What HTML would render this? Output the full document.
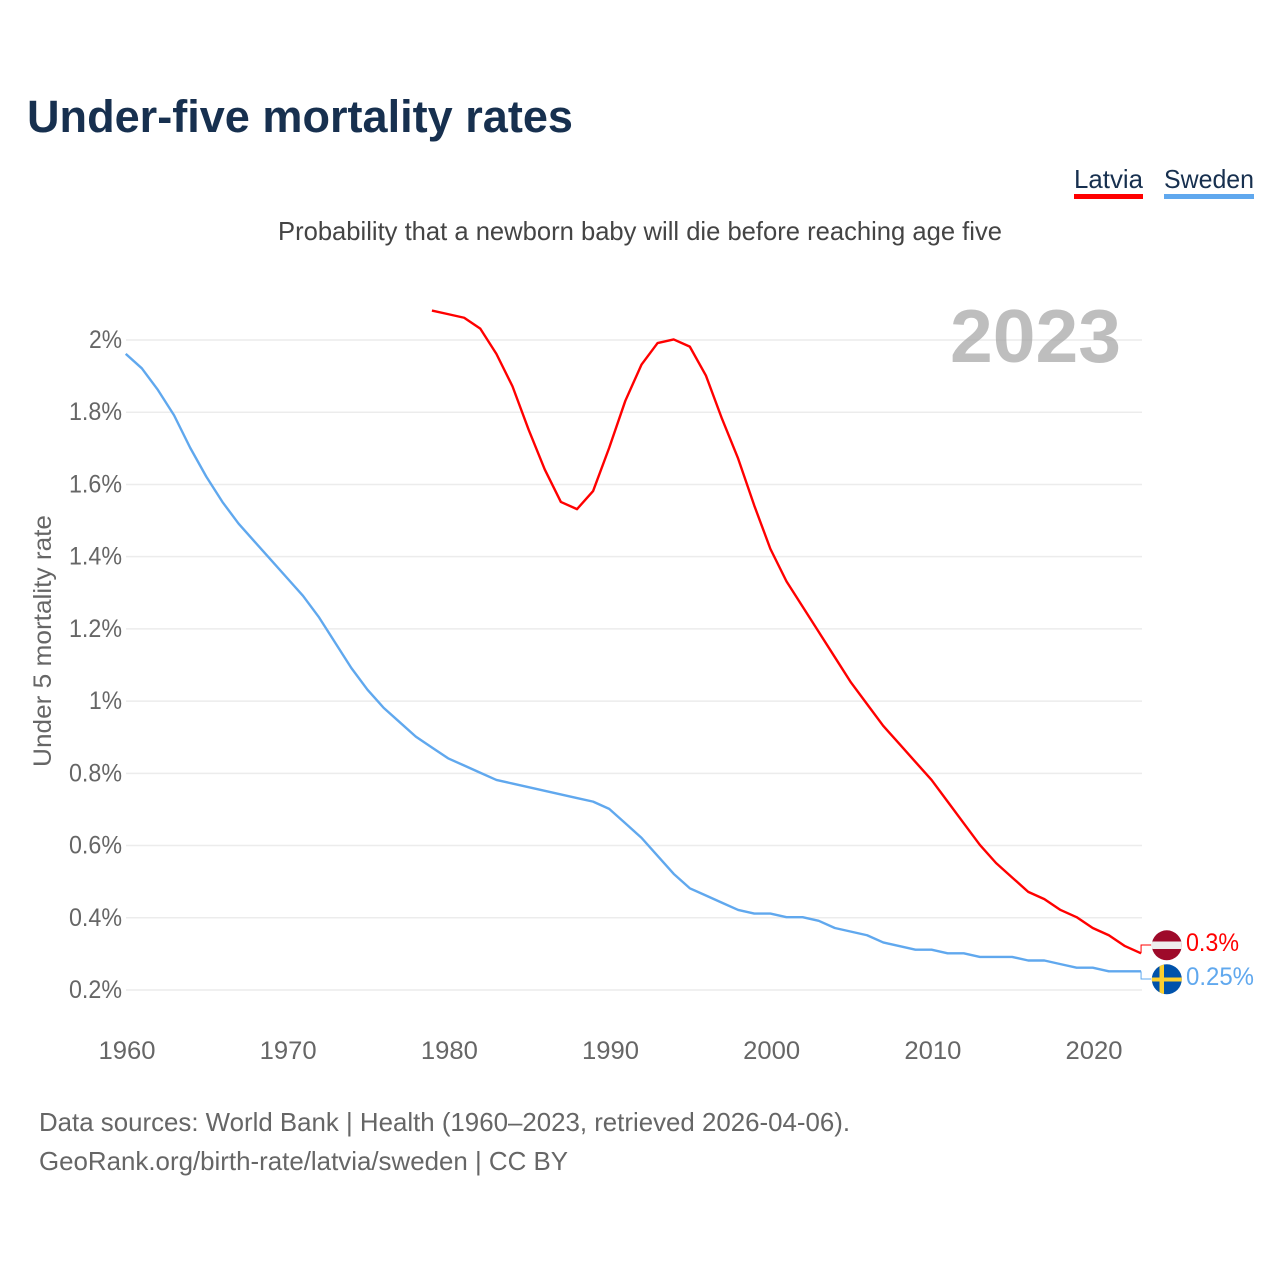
<!DOCTYPE html>
<html lang="en">
<head>
<meta charset="utf-8">
<title>Under-five mortality rates</title>
<style>
html,body{margin:0;padding:0;background:#fff;}
svg{display:block;}
text{font-family:"Liberation Sans",sans-serif;}
</style>
</head>
<body>
<svg id="chart" xmlns="http://www.w3.org/2000/svg" width="1280" height="1280" viewBox="0 0 1280 1280">
  <rect x="0" y="0" width="1280" height="1280" fill="#ffffff"/>
  <text x="27" y="132" font-size="45" font-weight="700" fill="#17304f" textLength="546" lengthAdjust="spacingAndGlyphs">Under-five mortality rates</text>
  <text x="278" y="240" font-size="26" fill="#444444" textLength="724" lengthAdjust="spacingAndGlyphs">Probability that a newborn baby will die before reaching age five</text>
  <g>
    <text x="1074" y="188" font-size="26" fill="#17304f" textLength="69" lengthAdjust="spacingAndGlyphs">Latvia</text>
    <rect x="1074" y="194" width="69" height="5" fill="#ff0000"/>
    <text x="1164" y="188" font-size="26" fill="#17304f" textLength="90" lengthAdjust="spacingAndGlyphs">Sweden</text>
    <rect x="1164" y="194" width="90" height="5" fill="#60a8ee"/>
  </g>
  <g id="grid"></g>
  <text x="1121" y="362" font-size="75" font-weight="700" fill="#a8a8a8" fill-opacity="0.75" text-anchor="end" textLength="171" lengthAdjust="spacingAndGlyphs">2023</text>
  <g id="yticks"></g>
  <g id="xticks"></g>
  <text transform="translate(51,641) rotate(-90)" font-size="25" fill="#666666" text-anchor="middle" textLength="252" lengthAdjust="spacingAndGlyphs">Under 5 mortality rate</text>
  <g id="series"></g>
  <g>
    <clipPath id="clip-lv"><circle cx="1166.8" cy="945.3" r="15"/></clipPath>
    <g clip-path="url(#clip-lv)">
      <rect x="1151" y="930" width="32" height="32" fill="#9e0a2a"/>
      <rect x="1151" y="941.5" width="32" height="7.5" fill="#eeeeee"/>
    </g>
    <text x="1186" y="951" font-size="25" fill="#ff0000" textLength="53" lengthAdjust="spacingAndGlyphs">0.3%</text>
  </g>
  <g>
    <clipPath id="clip-se"><circle cx="1166.8" cy="979.3" r="15"/></clipPath>
    <g clip-path="url(#clip-se)">
      <rect x="1151" y="964" width="32" height="32" fill="#0052ab"/>
      <rect x="1151" y="977.5" width="32" height="4" fill="#fdcf2e"/>
      <rect x="1159.5" y="964" width="4.5" height="32" fill="#fdcf2e"/>
    </g>
    <text x="1186" y="985" font-size="25" fill="#60a8ee" textLength="68" lengthAdjust="spacingAndGlyphs">0.25%</text>
  </g>
  <text x="39" y="1131" font-size="26" fill="#666666" textLength="811" lengthAdjust="spacingAndGlyphs">Data sources: World Bank | Health (1960–2023, retrieved 2026-04-06).</text>
  <text x="39" y="1170" font-size="26" fill="#666666" textLength="529" lengthAdjust="spacingAndGlyphs">GeoRank.org/birth-rate/latvia/sweden | CC BY</text>
</svg>
<script>
const yTickValues = [0.2, 0.4, 0.6, 0.8, 1, 1.2, 1.4, 1.6, 1.8, 2];
const yTickLabels = ['0.2%', '0.4%', '0.6%', '0.8%', '1%', '1.2%', '1.4%', '1.6%', '1.8%', '2%'];
const xTickYears = [1960, 1970, 1980, 1990, 2000, 2010, 2020];
const latviaStartYear = 1979;
const latviaValues = [2.08, 2.07, 2.06, 2.03, 1.96, 1.87, 1.75, 1.64, 1.55, 1.53, 1.58, 1.70, 1.83, 1.93, 1.99, 2.00, 1.98, 1.90, 1.78, 1.67, 1.54, 1.42, 1.33, 1.26, 1.19, 1.12, 1.05, 0.99, 0.93, 0.88, 0.83, 0.78, 0.72, 0.66, 0.60, 0.55, 0.51, 0.47, 0.45, 0.42, 0.40, 0.37, 0.35, 0.32, 0.30];
const swedenStartYear = 1960;
const swedenValues = [1.96, 1.92, 1.86, 1.79, 1.70, 1.62, 1.55, 1.49, 1.44, 1.39, 1.34, 1.29, 1.23, 1.16, 1.09, 1.03, 0.98, 0.94, 0.90, 0.87, 0.84, 0.82, 0.80, 0.78, 0.77, 0.76, 0.75, 0.74, 0.73, 0.72, 0.70, 0.66, 0.62, 0.57, 0.52, 0.48, 0.46, 0.44, 0.42, 0.41, 0.41, 0.40, 0.40, 0.39, 0.37, 0.36, 0.35, 0.33, 0.32, 0.31, 0.31, 0.30, 0.30, 0.29, 0.29, 0.29, 0.28, 0.28, 0.27, 0.26, 0.26, 0.25, 0.25, 0.25];

const NS = 'http://www.w3.org/2000/svg';
function xScale(year) { return 125.7 + (year - 1960) * 16.117; }
function yScale(v) { return 990 - (v - 0.2) * 361.1; }
function make(tag, parentId) {
  const el = document.createElementNS(NS, tag);
  document.getElementById(parentId).appendChild(el);
  return el;
}
function seriesPoints(startYear, values) {
  return values.map(function (v, i) {
    return xScale(startYear + i).toFixed(2) + ',' + (yScale(v) - 0.6).toFixed(2);
  });
}

yTickValues.forEach(function (v, i) {
  const line = make('line', 'grid');
  
  
  line.setAttribute('x1', 126);
  line.setAttribute('x2', 1142);
  line.setAttribute('y1', yScale(v));
  line.setAttribute('y2', yScale(v));
  line.setAttribute('stroke', '#ececec');
  line.setAttribute('stroke-width', '1.5');

  const label = make('text', 'yticks');
  
  
  label.setAttribute('x', 122);
  label.setAttribute('y', yScale(v) + 8);
  label.setAttribute('font-size', '25');
  label.setAttribute('fill', '#666666');
  label.setAttribute('text-anchor', 'end');
  label.setAttribute('textLength', yTickLabels[i].length === 2 ? 33 : 53);
  label.setAttribute('lengthAdjust', 'spacingAndGlyphs');
  label.textContent = yTickLabels[i];
});

xTickYears.forEach(function (year) {
  const label = make('text', 'xticks');
  
  
  label.setAttribute('x', xScale(year) + 1.3);
  label.setAttribute('y', 1059);
  label.setAttribute('font-size', '25');
  label.setAttribute('fill', '#666666');
  label.setAttribute('text-anchor', 'middle');
  label.setAttribute('textLength', 57);
  label.setAttribute('lengthAdjust', 'spacingAndGlyphs');
  label.textContent = String(year);
});

const swedenLine = make('polyline', 'series');


swedenLine.setAttribute('points', seriesPoints(swedenStartYear, swedenValues).join(' '));
swedenLine.setAttribute('fill', 'none');
swedenLine.setAttribute('stroke', '#60a8ee');
swedenLine.setAttribute('stroke-width', '2.4');
swedenLine.setAttribute('stroke-linejoin', 'round');

const latviaLine = make('polyline', 'series');


latviaLine.setAttribute('points', seriesPoints(latviaStartYear, latviaValues).join(' '));
latviaLine.setAttribute('fill', 'none');
latviaLine.setAttribute('stroke', '#ff0000');
latviaLine.setAttribute('stroke-width', '2.4');
latviaLine.setAttribute('stroke-linejoin', 'round');

const latviaLastX = xScale(latviaStartYear + latviaValues.length - 1);
const latviaLastY = yScale(latviaValues[latviaValues.length - 1]) - 0.6;
const latviaLeader = make('polyline', 'series');


latviaLeader.setAttribute('points', latviaLastX + ',' + latviaLastY + ' ' + latviaLastX + ',945 1151,945');
latviaLeader.setAttribute('fill', 'none');
latviaLeader.setAttribute('stroke', '#ff0000');
latviaLeader.setAttribute('stroke-width', '1');

const swedenLastX = xScale(swedenStartYear + swedenValues.length - 1);
const swedenLastY = yScale(swedenValues[swedenValues.length - 1]) - 0.6;
const swedenLeader = make('polyline', 'series');


swedenLeader.setAttribute('points', swedenLastX + ',' + swedenLastY + ' ' + swedenLastX + ',979 1151,979');
swedenLeader.setAttribute('fill', 'none');
swedenLeader.setAttribute('stroke', '#60a8ee');
swedenLeader.setAttribute('stroke-width', '1');
</script>
</body>
</html>
